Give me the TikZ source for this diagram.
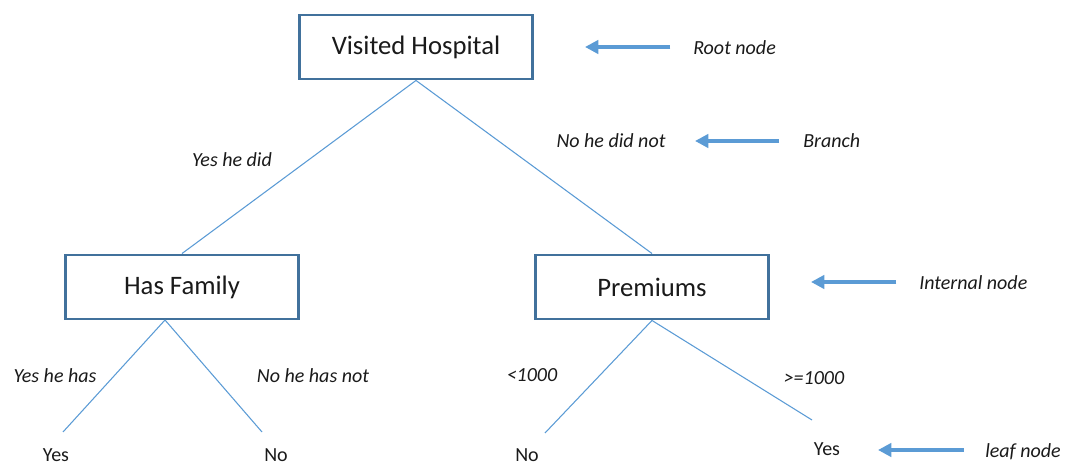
\documentclass[tikz,border=0pt]{standalone}
\usepackage{fontspec}
\setmainfont{Carlito}
\usetikzlibrary{arrows.meta}
\definecolor{boxblue}{HTML}{41719C}
\definecolor{lineblue}{HTML}{5B9BD5}
\definecolor{ink}{HTML}{1A1A1A}
\tikzset{
  treebox/.style={draw=boxblue, line width=2.2pt, fill=white, minimum width=175pt, minimum height=48pt, font=\fontsize{20}{24}\selectfont, text=ink},
  branch/.style={draw=lineblue, line width=0.8pt},
  tag/.style={font=\fontsize{15}{18}\selectfont\itshape, text=ink, inner sep=0pt},
  leaf/.style={font=\fontsize{15}{18}\selectfont, text=ink, inner sep=0pt},
  pointer/.style={draw=lineblue, line width=3pt, -{Triangle[length=10pt,width=10pt]}}
}
\begin{document}
\begin{tikzpicture}[x=0.75pt,y=-0.75pt]
\useasboundingbox (0,0) rectangle (1068,466);
% the three boxes
\node[treebox] (visited) at (416,47) {Visited Hospital};
\node[treebox] (family) at (182,287) {Has Family};
\node[treebox] (premiums) at (652,287) {Premiums};
% leaves
\node[leaf] (yesA) at (56,455) {Yes};
\node[leaf] (noA) at (276,455) {No};
\node[leaf] (noB) at (527,455) {No};
\node[leaf] (yesB) at (827,449) {Yes};
\coordinate (endYesA) at (63,432);
\coordinate (endNoA) at (262,432);
\coordinate (endNoB) at (545,433);
\coordinate (endYesB) at (812,420);
\coordinate (hfBottom) at (165,320);
% branches
\draw[branch] (visited.south) -- (family.north);
\draw[branch] (visited.south) -- (premiums.north);
\draw[branch] (hfBottom) -- (endYesA);
\draw[branch] (hfBottom) -- (endNoA);
\draw[branch] (premiums.south) -- (endNoB);
\draw[branch] (premiums.south) -- (endYesB);
% branch labels
\node[tag] (yesdid) at (232,160) {Yes he did};
\node[tag] (nodidnot) at (611,141) {No he did not};
\node[tag] (yeshas) at (55,376) {Yes he has};
\node[tag] (nohasnot) at (313,376) {No he has not};
\node[tag] (under) at (532,375) {<1000};
\node[tag] (over) at (814,378) {>=1000};
% legend on the right
\node[tag, anchor=west] (rootlbl) at (693,48) {Root node};
\node[tag, anchor=west] (branchlbl) at (803,141) {Branch};
\node[tag, anchor=west] (internallbl) at (919,283) {Internal node};
\node[tag, anchor=west] (leaflbl) at (985,452) {leaf node};
\coordinate (rootTip) at (585,47);
\coordinate (branchTip) at (695,141);
\coordinate (internalTip) at (811,282);
\coordinate (leafTip) at (878,450);
\draw[pointer] ([xshift=-17pt]rootlbl.west |- rootTip) -- (rootTip);
\draw[pointer] ([xshift=-18pt]branchlbl.west |- branchTip) -- (branchTip);
\draw[pointer] ([xshift=-17pt]internallbl.west |- internalTip) -- (internalTip);
\draw[pointer] ([xshift=-16pt]leaflbl.west |- leafTip) -- (leafTip);
\end{tikzpicture}
\end{document}
